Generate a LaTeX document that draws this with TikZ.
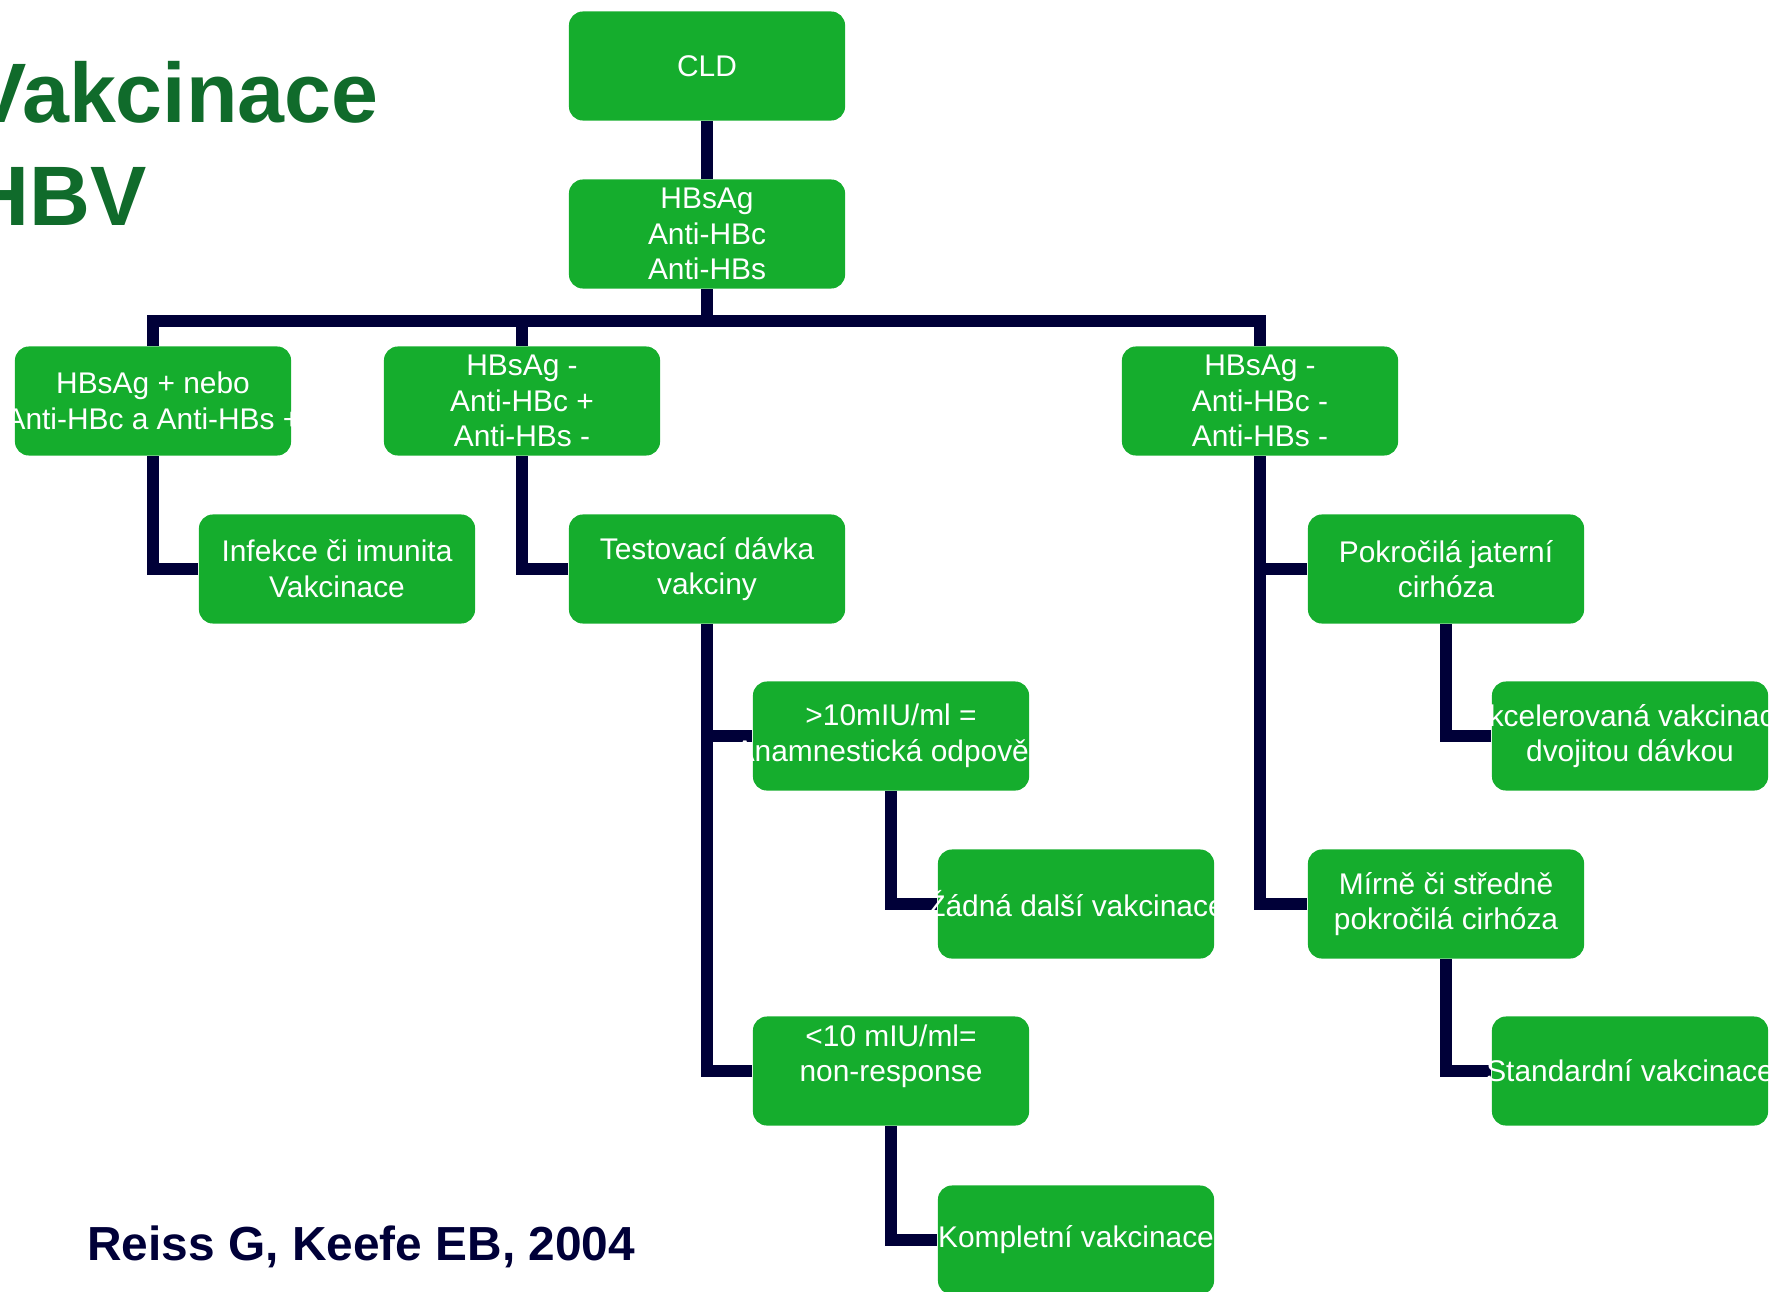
\documentclass[tikz,border=0pt]{standalone}
\usepackage{fontspec}
\setmainfont{Liberation Sans}
\usetikzlibrary{backgrounds}

\definecolor{boxgreen}{HTML}{15AD2D}
\definecolor{titlegreen}{HTML}{106B2B}
\definecolor{linenavy}{HTML}{000038}

% text that may run past the box edge
\newcommand{\spill}[1]{\makebox[0pt]{#1}}

\begin{document}
\begin{tikzpicture}[x=0.01cm,y=-0.01cm,
    box/.style={rectangle,rounded corners=0.14cm,fill=boxgreen,text=white,
        minimum width=2.76cm,minimum height=1.09cm,inner sep=0pt,align=center,
        font=\fontsize{8.5}{10.1}\selectfont},
    link/.style={linenavy,line width=0.12cm}]

    \useasboundingbox (0,0) rectangle (1774,1291);

    % Title
    \node [anchor=base west,text=titlegreen,font=\bfseries\fontsize{24}{29}\selectfont] (title1) at (-42,123) {Vakcinace};
    \node [anchor=base west,text=titlegreen,font=\bfseries\fontsize{24}{29}\selectfont] (title2) at (-44,225) {HBV};

    % Source
    \node [anchor=base west,text=linenavy,font=\bfseries\fontsize{13.6}{16}\selectfont] (source) at (75,1260) {Reiss G, Keefe EB, 2004};

    % Top
    \node [box] (cld) at (707,66) {CLD};
    \node [box] (hbs) at (707,234) {HBsAg\\Anti-HBc\\Anti-HBs};
    \coordinate (bar) at (707,321);

    % Serology groups
    \node [box] (pos) at (153,401) {HBsAg + nebo\\\spill{Anti-HBc a Anti-HBs +}};
    \node [box] (negc) at (522,401) {HBsAg -\\Anti-HBc +\\Anti-HBs -};
    \node [box] (negall) at (1260,401) {HBsAg -\\Anti-HBc -\\Anti-HBs -};

    % Second level
    \node [box] (infekce) at (337,569) {Infekce či imunita\\Vakcinace};
    \node [box] (test) at (707,569) {Testovací dávka\\vakciny};
    \node [box] (jater) at (1446,569) {Pokročilá jaterní\\cirhóza};

    % Test dose results
    \node [box] (high) at (891,736) {>10mIU/ml =\\\spill{Anamnestická odpověď}};
    \node [box] (zadna) at (1076,904) {\spill{Žádná další vakcinace}};
    \node [box] (low) at (891,1071) {<10 mIU/ml=\\non-response\\\mbox{}};
    \node [box] (kompl) at (1076,1240) {\spill{Kompletní vakcinace}};

    % Cirrhosis
    \node [box] (accel) at (1630,736) {\spill{Akcelerovaná vakcinace}\\dvojitou dávkou};
    \node [box] (mirne) at (1446,904) {Mírně či středně\\pokročilá cirhóza};
    \node [box] (standard) at (1630,1071) {\spill{Standardní vakcinace}};

    % Connectors
    \begin{pgfonlayer}{background}
        \draw [link] (cld) -- (hbs);
        \draw [link] (hbs.south) -- (bar);
        \draw [link] (pos.north) |- (bar) -| (negall.north);
        \draw [link] (negc.north) -- (negc.north |- bar);
        \draw [link] (pos.south) |- (infekce.west);
        \draw [link] (negc.south) |- (test.west);
        \draw [link] (negall.south) |- (jater.west);
        \draw [link] (negall.south) |- (mirne.west);
        \draw [link] (test.south) |- (high.west);
        \draw [link] (test.south) |- (low.west);
        \draw [link] (high.south) |- (zadna.west);
        \draw [link] (low.south) |- (kompl.west);
        \draw [link] (jater.south) |- (accel.west);
        \draw [link] (mirne.south) |- (standard.west);
    \end{pgfonlayer}

\end{tikzpicture}
\end{document}
